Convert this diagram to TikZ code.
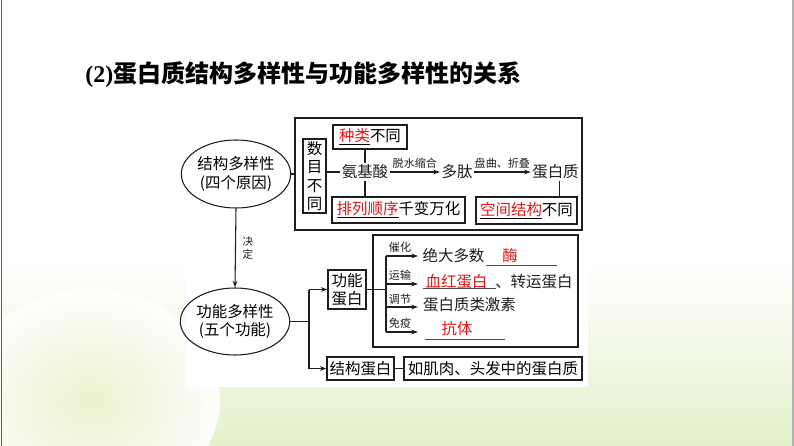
\documentclass[tikz,border=0pt]{standalone}
\usepackage{fontspec}
\setmainfont{Noto Sans CJK SC}
\newfontfamily\latinserif{Liberation Serif}
\usetikzlibrary{arrows.meta,shapes.geometric}
\definecolor{myred}{RGB}{226,22,22}
\definecolor{ink}{RGB}{30,30,30}
\definecolor{bggreen}{RGB}{228,241,203}
\definecolor{bgyellow}{RGB}{236,242,205}
\newcommand\bodyfs{\fontsize{11.6pt}{13.7pt}\selectfont}
\newcommand\smallfs{\fontsize{8.3pt}{9.8pt}\selectfont}
\newcommand\titlefs{\fontsize{18pt}{21pt}\selectfont}
\begin{document}
\begin{tikzpicture}[x=0.75pt,y=-0.75pt,
  box/.style={draw=ink, line width=0.8pt, inner sep=0pt, align=center, font=\bodyfs},
  oval/.style={draw=ink, line width=0.8pt, ellipse, inner sep=0pt, align=center, font=\bodyfs},
  txt/.style={inner sep=1pt, font=\bodyfs, text=ink},
  lbl/.style={inner sep=1pt, font=\smallfs, text=ink, align=center},
  ln/.style={draw=ink, line width=0.8pt},
  arr/.style={draw=ink, line width=0.8pt, -{Stealth[length=5pt,width=3.5pt]}},
  uline/.style={draw=ink!80, line width=0.7pt}]
\useasboundingbox (0,0) rectangle (794,446);
% background
\fill[white] (0,0) rectangle (794,446);
\shade[top color=white, bottom color=bggreen] (0,260) rectangle (794,446);
\shade[inner color=bgyellow, outer color=bgyellow!0, opacity=0.9] (90,400) ellipse [x radius=130, y radius=110];
\fill[white] (186,113) rectangle (588,387);
\draw[ink!70, line width=0.8pt] (1.5,0) -- (1.5,446);
\draw[gray!60, line width=0.8pt] (793,0) -- (793,446);
% title
\node[anchor=west, inner sep=0pt, font=\titlefs\bfseries, text=black] (title) at (85,75) {{\latinserif\bfseries (2)}蛋白质结构多样性与功能多样性的关系};
% upper part
\node[oval, minimum width=73.5pt, minimum height=51pt] (e1) at (236,174) {结构多样性\\(四个原因)};
\node[box, minimum width=215.25pt, minimum height=84pt] (b1) at (438.5,174) {};
\node[box, minimum width=17.25pt, minimum height=55.5pt] (sm) at (314.5,176) {数\\目\\不\\同};
\node[box, minimum width=55.5pt, minimum height=18pt] (zl) at (370,137) {\underline{\textcolor{myred}{种类}}不同};
\node[box, minimum width=99.75pt, minimum height=19.5pt] (pl) at (398.5,210) {\underline{\textcolor{myred}{排列顺序}}千变万化};
\node[box, minimum width=75.75pt, minimum height=20.25pt] (kj) at (526.5,210.5) {\underline{\textcolor{myred}{空间结构}}不同};
\node[txt] (aa) at (365,172) {氨基酸};
\node[txt] (dt) at (457,172) {多肽};
\node[txt] (dbz) at (555.5,172) {蛋白质};
\draw[ln] (e1.east) -- (b1.west);
\draw[ln] (aa.west) -- (aa.west -| sm.east);
\draw[ln] (aa.north) -- (aa.north |- zl.south);
\draw[ln] (aa.south) -- (aa.south |- pl.north);
\draw[arr] (aa.east) -- (dt.west) node[midway, above=1.5pt, lbl] (l1) {脱水缩合};
\draw[arr] (dt.east) -- (dbz.west) node[midway, above=1.5pt, lbl] (l2) {盘曲、折叠};
\draw[ln] ([xshift=3pt]dbz.south) -- ([xshift=3pt]dbz.south |- kj.north);
% lower part
\node[oval, minimum width=72pt, minimum height=50.25pt] (e2) at (235,321.5) {功能多样性\\(五个功能)};
\draw[arr] (e1.south) -- (e2.north) node[midway, right=4pt, lbl, font=\fontsize{8pt}{9.8pt}\selectfont] (jd) {决\\定};
\node[box, minimum width=28.5pt, minimum height=29.25pt] (gn) at (347,289.5) {功能\\蛋白};
\node[box, minimum width=50.25pt, minimum height=17.25pt] (jg) at (360.5,368.5) {结构蛋白};
\node[box, minimum width=133.5pt, minimum height=17.25pt] (rj) at (493,368.5) {如肌肉、头发中的蛋白质};
\node[box, minimum width=153.75pt, minimum height=84pt] (b2) at (475.5,291) {};
\coordinate (j1) at (309,321.5);
\draw[ln] (e2.east) -- (j1);
\draw[ln] (j1 |- gn.west) -- (j1 |- jg.west);
\draw[arr] (j1 |- gn.west) -- (gn.west);
\draw[arr] (j1 |- jg.west) -- (jg.west);
\draw[ln] (jg.east) -- (rj.west);
% function list
\coordinate (s) at (386,290);
\coordinate (a1) at (418,256);
\coordinate (a2) at (418,284);
\coordinate (a3) at (418,307);
\coordinate (a4) at (418,332);
\draw[ln] (gn.east) -- (gn.east -| s);
\draw[ln] (s |- a1) -- (s |- a4);
\draw[arr] (s |- a1) -- (a1);
\draw[arr] (s |- a2) -- (a2);
\draw[arr] (s |- a3) -- (a3);
\draw[arr] (s |- a4) -- (a4);
\node[lbl] (c1) at (400,247) {催化};
\node[lbl] (c2) at (400,275) {运输};
\node[lbl] (c3) at (400,299) {调节};
\node[lbl] (c4) at (400,323) {免疫};
\node[txt] (r1) at (453.5,256) {绝大多数};
\node[txt, text=myred] (r1b) at (510,256) {酶};
\draw[uline] (486,265) -- (557,265);
\node[txt, text=myred] (r2) at (456.5,282) {血红蛋白};
\draw[uline] (423,288) -- (496,288);
\node[txt, anchor=west, inner sep=0pt] (r2b) at (495,282) {、转运蛋白};
\node[txt] (r3) at (469.5,305) {蛋白质类激素};
\node[txt, text=myred] (r4) at (457,329) {抗体};
\draw[uline] (425,339) -- (505,339);
\end{tikzpicture}
\end{document}
